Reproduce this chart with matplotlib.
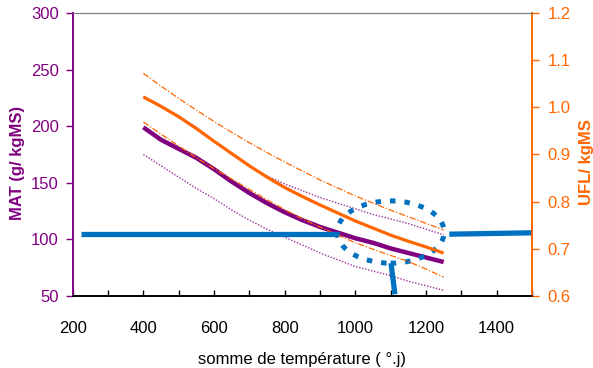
import matplotlib

matplotlib.use("Agg")
import matplotlib.pyplot as plt
from matplotlib.patches import Ellipse
from matplotlib.ticker import FormatStrFormatter, MultipleLocator

plt.rcParams["font.family"] = ["Liberation Sans", "DejaVu Sans"]

PURPLE = "#800080"
ORANGE = "#FF6600"
BLUE = "#0070C0"

# somme de temperature (deg.j)
temp_sum = [400, 450, 500, 550, 600, 650, 700, 750, 800, 850,
            900, 950, 1000, 1050, 1100, 1150, 1200, 1250]

# MAT (g/kgMS), left axis
mat_mean = [199, 188, 180, 172, 162, 151, 141, 132, 124, 117,
            111, 106, 101, 97, 92, 88, 84, 80]
mat_high = [226, 218, 209, 199, 187, 175, 165, 156, 149, 143,
            137, 132, 127, 122, 118, 114, 109, 104]
mat_low = [175, 165, 155, 145, 136, 126, 117, 109, 102, 95,
           88, 82, 76, 72, 68, 63, 59, 55]

# UFL/kgMS, right axis
ufl_mean = [1.022, 1.002, 0.980, 0.955, 0.928, 0.902, 0.876, 0.852, 0.830, 0.811,
            0.793, 0.776, 0.759, 0.744, 0.729, 0.716, 0.704, 0.691]
ufl_high = [1.072, 1.045, 1.019, 0.994, 0.970, 0.947, 0.925, 0.904, 0.884, 0.865,
            0.846, 0.829, 0.812, 0.797, 0.782, 0.768, 0.754, 0.740]
ufl_low = [0.969, 0.943, 0.918, 0.893, 0.870, 0.848, 0.826, 0.804, 0.783, 0.764,
           0.746, 0.729, 0.713, 0.699, 0.686, 0.673, 0.657, 0.640]

x_ticks = [200, 400, 600, 800, 1000, 1200, 1400]
mat_ticks = [50, 100, 150, 200, 250, 300]
ufl_ticks = [0.6, 0.7, 0.8, 0.9, 1.0, 1.1, 1.2]


def main() -> None:
    fig = plt.figure(figsize=(5.93, 3.68), dpi=100)
    ax = fig.add_axes([0.1226, 0.1957, 0.7745, 0.769])
    ax2 = ax.twinx()

    ax.plot(temp_sum, mat_high, color=PURPLE, lw=1.0, ls=(0, (1, 1.2)), alpha=0.8)
    ax.plot(temp_sum, mat_low, color=PURPLE, lw=1.0, ls=(0, (1, 1.2)), alpha=0.8)
    ax.plot(temp_sum, mat_mean, color=PURPLE, lw=3.2, solid_capstyle="butt")

    ax2.plot(temp_sum, ufl_high, color=ORANGE, lw=0.9, ls=(0, (5, 1.5, 1, 1.5)))
    ax2.plot(temp_sum, ufl_low, color=ORANGE, lw=0.9, ls=(0, (5, 1.5, 1, 1.5)))
    ax2.plot(temp_sum, ufl_mean, color=ORANGE, lw=2.3, solid_capstyle="butt")

    # blue hand-drawn annotation (left-axis data units), kept on top of both axes
    tr = ax.transData
    ax2.plot([223, 952], [105, 105], color=BLUE, lw=3.8, transform=tr,
             solid_capstyle="butt", clip_on=False)
    ax2.plot([1266, 1500], [104.6, 105.8], color=BLUE, lw=3.8, transform=tr,
             solid_capstyle="butt", clip_on=False)
    ax2.plot([1101, 1112], [79, 51.5], color=BLUE, lw=3.8, transform=tr,
             solid_capstyle="butt", clip_on=False)
    ax2.add_patch(Ellipse((1100, 106.5), 303, 55, transform=tr, fill=False,
                          edgecolor=BLUE, lw=3.6, ls=(0, (1.1, 1.8)), clip_on=False))

    ax.set_xlim(200, 1500)
    ax.set_ylim(50, 300)
    ax2.set_ylim(0.6, 1.2)

    ax.set_xticks(x_ticks)
    ax.xaxis.set_minor_locator(MultipleLocator(100))
    ax.tick_params(axis="x", which="both", direction="in", length=4, width=1,
                   colors="black", labelsize=12, pad=18, top=False)
    ax.set_yticks(mat_ticks)
    ax.tick_params(axis="y", direction="out", length=5, width=1, colors=PURPLE,
                   labelsize=12, pad=5)
    ax2.set_yticks(ufl_ticks)
    ax2.yaxis.set_major_formatter(FormatStrFormatter("%.1f"))
    ax2.tick_params(axis="y", direction="out", length=5, width=1, colors=ORANGE,
                    labelsize=12, pad=6)

    for a in (ax, ax2):
        a.spines["top"].set_color("#808080")
        a.spines["top"].set_linewidth(0.8)
        a.spines["bottom"].set_color("black")
        a.spines["bottom"].set_linewidth(1.2)
        a.spines["left"].set_color(PURPLE)
        a.spines["right"].set_color(ORANGE)
        a.spines["left"].set_linewidth(1.2)
        a.spines["right"].set_linewidth(1.2)

    ax.set_xlabel("somme de température ( °.j)", fontsize=12, color="black")
    ax.xaxis.set_label_coords(0.5, -0.198)
    ax.set_ylabel("MAT (g/ kgMS)", fontsize=12, fontweight="bold", color=PURPLE)
    ax.yaxis.set_label_coords(-0.104, 0.47)
    ax2.set_ylabel("UFL/ kgMS", fontsize=12, fontweight="bold", color=ORANGE)
    ax2.yaxis.set_label_coords(1.103, 0.473)

    fig.savefig("out.png", dpi=100)
    plt.close(fig)


if __name__ == "__main__":
    main()
